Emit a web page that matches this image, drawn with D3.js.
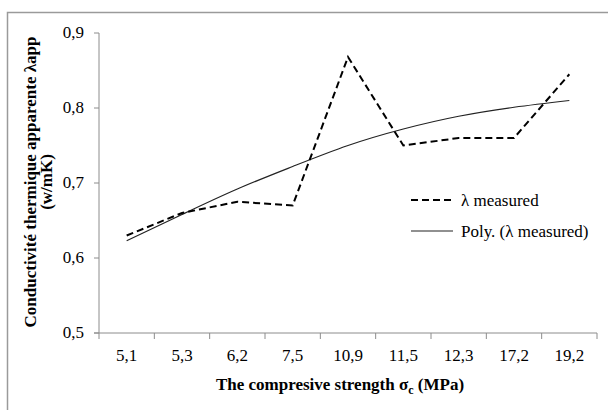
<!DOCTYPE html>
<html><head><meta charset="utf-8">
<script src="https://cdn.jsdelivr.net/npm/d3@7"></script>
</head><body style="margin:0">
<script>
const categories = ["5,1","5,3","6,2","7,5","10,9","11,5","12,3","17,2","19,2"];
const measured = [0.63,0.66,0.675,0.67,0.868,0.75,0.76,0.76,0.845];
const poly = [0.623,0.658,0.692,0.722,0.750,0.772,0.789,0.801,0.810];
const yTicks = [0.5,0.6,0.7,0.8,0.9];
const seriesNames = ["λ measured","Poly. (λ measured)"];

const W=608,H=410;
const svg=d3.select("body").append("svg").attr("width",W).attr("height",H)
  .style("font-family",'"Liberation Serif"');
svg.append("path").attr("d","M7.5,410 V12.5 H608").attr("fill","none").attr("stroke","#9a9a9a").attr("stroke-width",1.5);

const L=99,R=597,T=33,B=333;
const x=d3.scaleBand().domain(categories).range([L,R]);
const y=d3.scaleLinear().domain([0.5,0.9]).range([B,T]);
const gray="#8c8c8c";
function serif(sel,size,bold){
  sel.style("font-family",'"Liberation Serif"').style("font-size",size+"px");
  if(bold) sel.style("font-weight","bold");
  return sel;
}

// x axis
const gx=svg.append("g").attr("transform",`translate(0,${B})`);
gx.append("line").attr("x1",L-5).attr("x2",R).attr("stroke",gray);
const bounds=categories.map(c=>x(c)).concat([R]);
gx.selectAll("line.t").data(bounds).join("line").attr("class","t")
  .attr("x1",d=>d).attr("x2",d=>d).attr("y1",0).attr("y2",6).attr("stroke",gray);
gx.selectAll("text").data(categories).join("text")
  .attr("x",d=>x(d)+x.bandwidth()/2).attr("y",28).attr("text-anchor","middle")
  .call(serif,17).text(d=>d);

// y axis
const gy=svg.append("g");
gy.append("line").attr("x1",L).attr("x2",L).attr("y1",T).attr("y2",B).attr("stroke",gray);
gy.selectAll("line.t").data(yTicks).join("line").attr("class","t")
  .attr("x1",L-5).attr("x2",L).attr("y1",d=>y(d)).attr("y2",d=>y(d)).attr("stroke",gray);
gy.selectAll("text").data(yTicks).join("text")
  .attr("x",84).attr("y",d=>y(d)+5).attr("text-anchor","end")
  .call(serif,17).text(d=>d3.format(".1f")(d).replace(".",","));

const cx=d=>x(d)+x.bandwidth()/2;
// poly line
svg.append("path").datum(poly).attr("fill","none").attr("stroke","#222").attr("stroke-width",1.2)
  .attr("d",d3.line().x((d,i)=>cx(categories[i])).y(d=>y(d)).curve(d3.curveNatural));
// measured
svg.append("path").datum(measured).attr("fill","none").attr("stroke","#000").attr("stroke-width",2)
  .attr("stroke-dasharray","7,4")
  .attr("d",d3.line().x((d,i)=>cx(categories[i])).y(d=>y(d)));

// legend
const lg=svg.append("g");
lg.append("line").attr("x1",411).attr("x2",453).attr("y1",200).attr("y2",200)
  .attr("stroke","#000").attr("stroke-width",2).attr("stroke-dasharray","7,4");
lg.append("line").attr("x1",411).attr("x2",453).attr("y1",231).attr("y2",231)
  .attr("stroke","#222").attr("stroke-width",1.2);
lg.selectAll("text").data(seriesNames).join("text")
  .attr("x",461).attr("y",(d,i)=>206+i*31).call(serif,17).text(d=>d);

// axis titles
const xt=svg.append("text").attr("x",340).attr("y",390).attr("text-anchor","middle").call(serif,17,true);
xt.append("tspan").text("The compresive strength  σ");
xt.append("tspan").style("font-size","12px").attr("dy",4).text("c");
xt.append("tspan").attr("dy",-4).text(" (MPa)");

const yt=svg.append("text").attr("transform","translate(0,182) rotate(-90)").attr("text-anchor","middle").call(serif,17,true);
yt.append("tspan").attr("x",0).attr("y",36).text("Conductivité thermique apparente λapp");
yt.append("tspan").attr("x",0).attr("y",52).text("(w/mK)");
</script>
</body></html>
